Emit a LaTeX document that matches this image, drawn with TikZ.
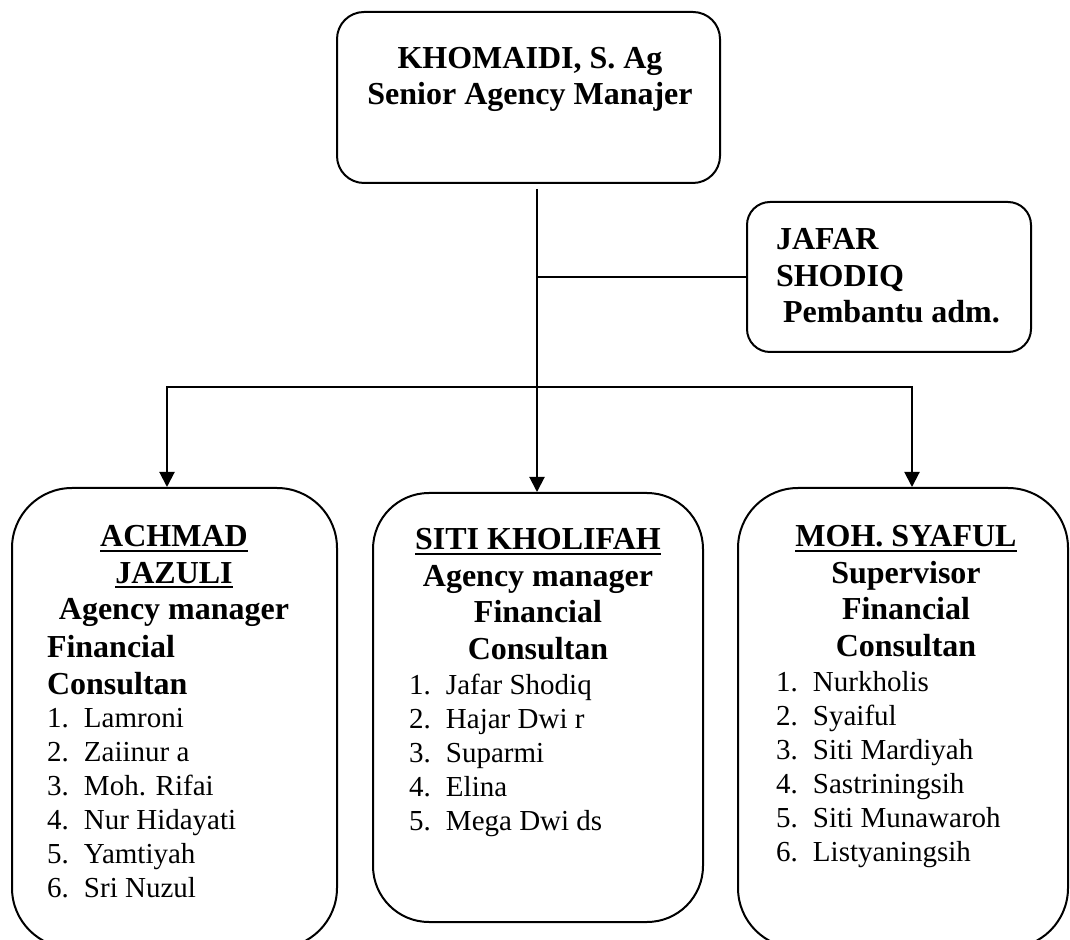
\documentclass[tikz,border=0pt]{standalone}
\usepackage{fontspec}
\setmainfont{Liberation Serif}
\usetikzlibrary{arrows.meta,positioning}
\newcommand{\itemno}[2]{\makebox[18.5pt][l]{#1.}#2}
\newcommand{\undl}[1]{\leavevmode\setbox0\hbox{#1}\rlap{\rule[-2.6pt]{\wd0}{1pt}}\box0}

\begin{document}
\begin{tikzpicture}[x=0.5pt,y=-0.5pt,>={Triangle[length=7.5pt,width=7.5pt]},line width=1pt,
  orgbox/.style={draw,rounded corners=#1,inner sep=0pt},
  head/.style={inner sep=0pt,align=center,font=\fontsize{16pt}{18.25pt}\selectfont\bfseries},
  names/.style={inner sep=0pt,align=left,font=\fontsize{14.5pt}{17pt}\selectfont}]
	\clip (0,0) rectangle (1070,940);
	% boxes
	\node[orgbox=13.5pt,minimum width=191.5pt,minimum height=85.5pt] (sam) at (528.5,97.5) {};
	\node[orgbox=11.5pt,minimum width=142pt,minimum height=75pt] (adm) at (889,277) {};
	\node[orgbox=30pt,minimum width=162.5pt,minimum height=230pt] (am1) at (174.5,718) {};
	\node[orgbox=28pt,minimum width=165pt,minimum height=214.5pt] (am2) at (538,707.5) {};
	\node[orgbox=30pt,minimum width=165pt,minimum height=230pt] (spv) at (903,718) {};
	% texts
	\node[head,anchor=north] (sam-txt) at (530,46) {KHOMAIDI, S. Ag\\Senior Agency Manajer};
	\node[head,align=left,anchor=north west] (adm-txt) at (775,227.5) {JAFAR\\SHODIQ\\\hspace*{3.5pt}Pembantu adm.};
	\node[head,anchor=north] (am1-head) at (174,524.5) {\undl{ACHMAD}\\\undl{JAZULI}\\Agency manager};
	\node[head,align=left,anchor=north west] (am1-fc) at (46,634.5) {Financial\\Consultan};
	\node[names,anchor=north west] (am1-list) at (46,707.5) {\itemno{1}{Lamroni}\\\itemno{2}{Zaiinur a}\\\itemno{3}{Moh. Rifai}\\\itemno{4}{Nur Hidayati}\\\itemno{5}{Yamtiyah}\\\itemno{6}{Sri Nuzul}};
	\node[head,anchor=north] (am2-head) at (538,527.5) {\undl{SITI KHOLIFAH}\\Agency manager\\Financial\\Consultan};
	\node[names,anchor=north west] (am2-list) at (408,673.5) {\itemno{1}{Jafar Shodiq}\\\itemno{2}{Hajar Dwi r}\\\itemno{3}{Suparmi}\\\itemno{4}{Elina}\\\itemno{5}{Mega Dwi ds}};
	\node[head,anchor=north] (spv-head) at (906,524.5) {\undl{MOH. SYAFUL}\\Supervisor\\Financial\\Consultan};
	\node[names,anchor=north west] (spv-list) at (775,670.5) {\itemno{1}{Nurkholis}\\\itemno{2}{Syaiful}\\\itemno{3}{Siti Mardiyah}\\\itemno{4}{Sastriningsih}\\\itemno{5}{Siti Munawaroh}\\\itemno{6}{Listyaningsih}};
	% connectors
	\coordinate (trunk) at (537,189);
	\coordinate (busL) at (167,387);
	\coordinate (busR) at (912,387);
	\draw (trunk |- adm.west) -- (adm.west);
	\draw[->] (trunk) -- (trunk |- am2.north);
	\draw[<->] (am1.north -| busL) -- (busL) -- (busR) -- (spv.north -| busR);
\end{tikzpicture}
\end{document}
